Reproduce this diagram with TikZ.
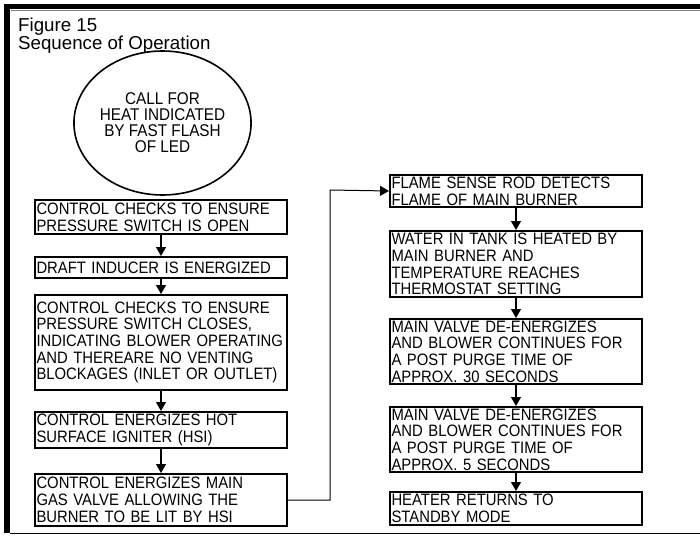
\documentclass[tikz,border=0pt]{standalone}
\usepackage{fontspec}
\setmainfont{Liberation Sans}
\newfontfamily\boxfont[FakeStretch = 0.9]{Liberation Sans}
\usetikzlibrary{arrows.meta,shapes.geometric}

\begin{document}
\begin{tikzpicture}[x = 1pt, y = -1pt,
		box/.style = {draw, line width = 2pt, text width = 249pt, align = left, inner xsep = 1.5pt, inner ysep = 0pt, minimum height = #1, anchor = north, font = \boxfont\fontsize{16.5}{16.7}\selectfont},
		flow/.style = {-{Triangle[width = 10pt, length = 9pt]}, line width = 1.2pt}]
			\useasboundingbox (0, 0) rectangle (700, 538);
			\fill (4, 4) rectangle (700, 9);
			\fill (4, 4) rectangle (10, 533);
			\draw[line width = 1pt] (10, 533) -- (700, 533);
			\draw[gray, line width = 0.6pt] (10.5, 9.8) -- (700, 9.8);
			
			\node[anchor = north west, align = left, inner sep = 0pt, font = \fontsize{18.7}{15}\selectfont] (title) at (18, 17.4) {Figure 15\\Sequence of Operation};
			
			\node[ellipse, draw, line width = 1.6pt, minimum width = 133pt, minimum height = 144pt, align = center, inner sep = 0pt, font = \boxfont\fontsize{17}{16}\selectfont] (call) at (162.5, 123) {CALL FOR\\HEAT INDICATED\\BY FAST FLASH\\OF LED};
			
			\node[box = 34pt] (b1) at (161, 199) {CONTROL CHECKS TO ENSURE\\PRESSURE SWITCH IS OPEN};
			\node[box = 21pt] (b2) at (161, 256) {DRAFT INDUCER IS ENERGIZED};
			\node[box = 95pt] (b3) at (161, 294) {CONTROL CHECKS TO ENSURE\\PRESSURE SWITCH CLOSES,\\INDICATING BLOWER OPERATING\\AND THEREARE NO VENTING\\BLOCKAGES (INLET OR OUTLET)};
			\node[box = 36pt] (b4) at (161, 411) {CONTROL ENERGIZES HOT\\SURFACE IGNITER (HSI)};
			\node[box = 52pt] (b5) at (161, 473) {CONTROL ENERGIZES MAIN\\GAS VALVE ALLOWING THE\\BURNER TO BE LIT BY HSI};
			
			\node[box = 32pt] (b6) at (516, 174) {FLAME SENSE ROD DETECTS\\FLAME OF MAIN BURNER};
			\node[box = 66pt] (b7) at (516, 230) {WATER IN TANK IS HEATED BY\\MAIN BURNER AND\\TEMPERATURE REACHES\\THERMOSTAT SETTING};
			\node[box = 65pt] (b8) at (516, 318) {MAIN VALVE DE-ENERGIZES\\AND BLOWER CONTINUES FOR\\A POST PURGE TIME OF\\APPROX. 30 SECONDS};
			\node[box = 65pt] (b9) at (516, 406) {MAIN VALVE DE-ENERGIZES\\AND BLOWER CONTINUES FOR\\A POST PURGE TIME OF\\APPROX. 5 SECONDS};
			\node[box = 33pt] (b10) at (516, 491) {HEATER RETURNS TO\\STANDBY MODE};
			
			\foreach \a/\b in {b1/b2, b2/b3, b3/b4, b4/b5, b6/b7, b7/b8, b8/b9, b9/b10} {
				\draw[flow] (\a.south) -- (\b.north);
			}
			
			\coordinate (turn) at (330, 190);
			\draw[flow, line width = 1pt] (b5.east) -| (turn) -- (b6.west);
		\end{tikzpicture}
\end{document}
